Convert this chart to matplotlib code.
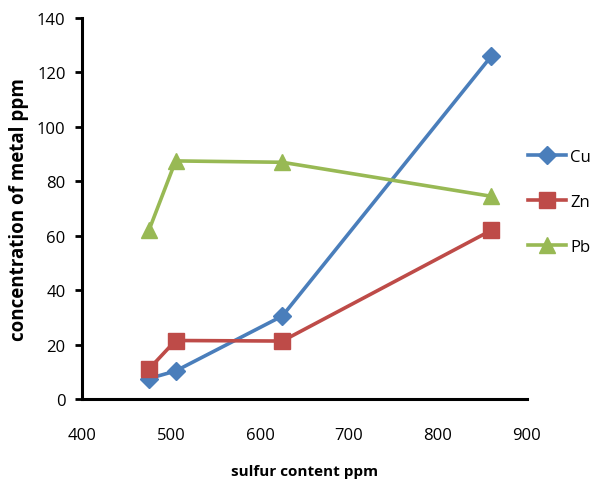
import matplotlib.pyplot as plt

sulfur = [475, 505, 625, 860]
cu = [7.5, 10.3, 30.5, 126]
zn = [11, 21.5, 21.3, 62]
pb = [62, 87.5, 87, 74.5]

plt.rcParams['font.family'] = ['Open Sans', 'DejaVu Sans']

fig = plt.figure(figsize=(5.96, 4.89), dpi=100)
ax = fig.add_axes([0.138, 0.182, 0.746, 0.779])

ax.plot(sulfur, cu, color='#4A7EBB', lw=2.6, marker='D', ms=9, label='Cu')
ax.plot(sulfur, zn, color='#BE4B48', lw=2.6, marker='s', ms=11, label='Zn')
ax.plot(sulfur, pb, color='#98B954', lw=2.6, marker='^', ms=11, label='Pb')

ax.set_xlim(400, 900)
ax.set_ylim(0, 140)
ax.set_xticks(range(400, 901, 100))
ax.set_yticks(range(0, 141, 20))

for side in ['top', 'right']:
    ax.spines[side].set_visible(False)
for side in ['left', 'bottom']:
    ax.spines[side].set_linewidth(2.2)
    ax.spines[side].set_color('black')

ax.tick_params(axis='y', direction='out', length=5, width=2, labelsize=12, pad=7)
ax.tick_params(axis='x', length=0, labelsize=12, pad=20)

ax.set_xlabel('sulfur content ppm', fontsize=11, fontweight='bold', va='center')
ax.xaxis.set_label_coords(0.5, -0.19)
ax.set_ylabel('concentration of metal ppm', fontsize=13.5, fontweight='bold', labelpad=6)

fig.legend(loc='center left', bbox_to_anchor=(0.86, 0.585), frameon=False,
           fontsize=12, handlelength=2.3, labelspacing=1.75, handletextpad=0.25)

fig.savefig('out.png', dpi=100)
